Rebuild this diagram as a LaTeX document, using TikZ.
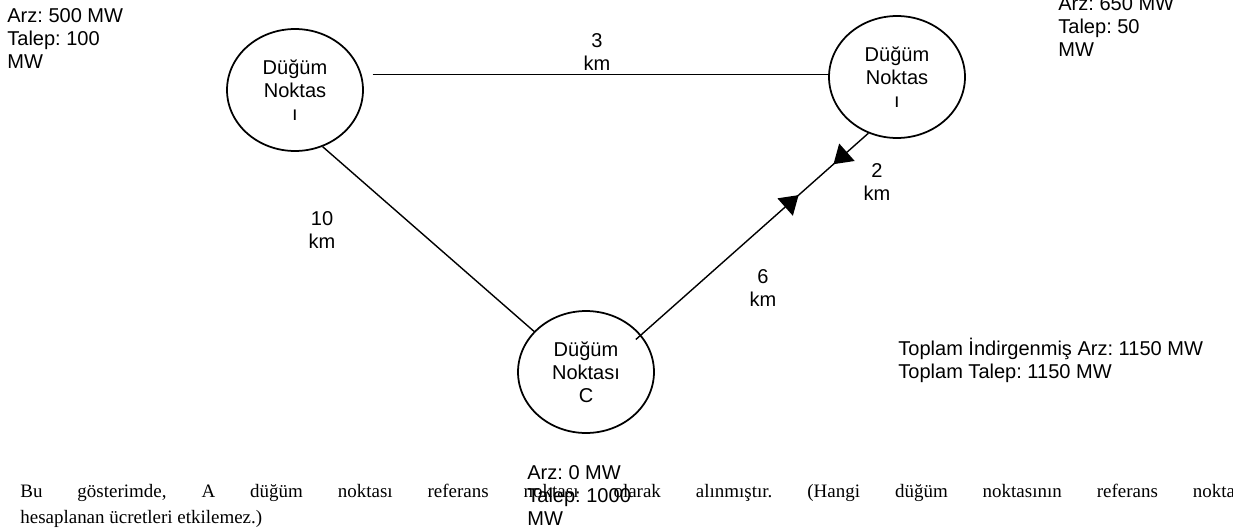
\documentclass[tikz,border=0pt]{standalone}
\usepackage{fontspec}
\setmainfont{Liberation Sans}
\newfontfamily\metinfont{Liberation Serif}
\frenchspacing
\usepackage{tikz}
\usetikzlibrary{shapes.geometric}
\usetikzlibrary{arrows.meta,decorations.markings,calc}

\tikzset{
  dugum/.style={draw,ellipse,line width=1pt,minimum width=2.72cm,minimum height=2.44cm,
    inner sep=0pt,align=center,font=\fontsize{11.4pt}{13.1pt}\selectfont},
  etiket/.style={anchor=north west,inner sep=0pt,align=left,font=\fontsize{11.4pt}{13.1pt}\selectfont},
  mesafe/.style={inner sep=0pt,align=center,font=\fontsize{11.4pt}{13.1pt}\selectfont},
  metin/.style={anchor=base west,inner sep=0pt,font=\metinfont\fontsize{10.8pt}{13.1pt}\selectfont},
  hat/.style={line width=0.8pt},
  iki yon/.style={postaction={decorate},decoration={markings,
    mark=at position 0.70 with {\arrow{Triangle[length=3.6mm,width=4.6mm]}},
    mark=at position 0.85 with {\arrowreversed{Triangle[length=3.6mm,width=4.6mm]}}}}
}

\begin{document}
\begin{tikzpicture}[x=0.02cm,y=-0.02cm]
\useasboundingbox (0,0) rectangle (1233,531);

\node[dugum] at (295,90) (nA) {Düğüm\\Noktas\\ı};
\node[dugum] at (897,77) (nB) {Düğüm\\Noktas\\ı};
\node[dugum] at (586,372) (nC) {Düğüm\\Noktası\\C};

\draw[hat,shorten <=2.2mm] (nA.13) -- (nA.13 -| nB.west);
\draw[hat] (nA.-64) -- (nC.142);
\coordinate (cUc) at ($(nC.34)!-1.4mm!(nB.-117)$);
\draw[hat,iki yon] (cUc) -- (nB.-117);

\node[mesafe] at (597,52) (m3) {3\\km};
\node[mesafe] at (322,230) (m10) {10\\km};
\node[mesafe] at (877,182) (m2) {2\\km};
\node[mesafe] at (763,288) (m6) {6\\km};

\node[etiket] at (7,8) (arzA) {Arz: 500 MW\\Talep: 100\\MW};
\node[etiket] at (1058,-4) (arzB) {Arz: 650 MW\\Talep: 50\\MW};
\node[etiket] at (527,465) (arzC) {Arz: 0 MW\\Talep: 1000\\MW};
\node[etiket] at (898,338) (toplam) {Toplam İndirgenmiş Arz: 1150 MW\\Toplam Talep: 1150 MW};

\node[metin] at (20,497) (satir1) {\makebox[24.55cm][s]{Bu gösterimde, A düğüm noktası referans noktası olarak alınmıştır. (Hangi düğüm noktasının referans noktası}};
\node[metin] at (20,523) (satir2) {hesaplanan ücretleri etkilemez.)};
\end{tikzpicture}
\end{document}
